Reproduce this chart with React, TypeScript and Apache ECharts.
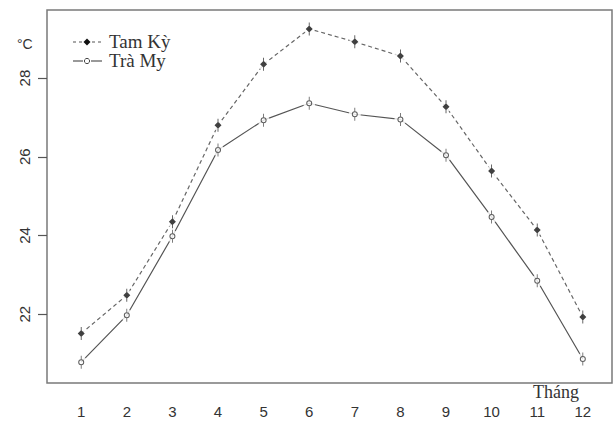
import React, { useEffect, useRef } from "react";
import * as echarts from "echarts";

const months = [1, 2, 3, 4, 5, 6, 7, 8, 9, 10, 11, 12];
const tamKy = [21.51, 22.48, 24.35, 26.8, 28.35, 29.25, 28.92, 28.56, 27.27, 25.64, 24.14, 21.93];
const traMy = [20.78, 21.97, 23.98, 26.17, 26.93, 27.36, 27.08, 26.95, 26.04, 24.47, 22.85, 20.86];
const yTicks = [22, 24, 26, 28];
const seriesNames = ["Tam Kỳ", "Trà My"];
const xTitle = "Tháng";
const yTitle = "°C";

const filledSym = "path://M3.1,0 H3.9 V13 H3.1 Z M3.5,3 L7,6.5 L3.5,10 L0,6.5 Z";
const openSym =
  "path://M3.1,0 H3.9 V3.6 H3.1 Z M3.1,9.4 H3.9 V13 H3.1 Z M3.5,3.5 A3,3 0 1,1 3.5,9.5 A3,3 0 1,1 3.5,3.5 Z M3.5,4.5 A2,2 0 1,0 3.5,8.5 A2,2 0 1,0 3.5,4.5 Z";

export default function App() {
  const ref = useRef<HTMLDivElement>(null);
  useEffect(() => {
    if (!ref.current) return;
    const chart = echarts.init(ref.current, null, { renderer: "svg" });
    const serif = "Liberation Serif";
    const sans = "Liberation Sans";
    const tk = months.map((m, i) => [m, tamKy[i]]);
    const tm = months.map((m, i) => [m, traMy[i]]);
    chart.setOption({
      animation: false,
      backgroundColor: "#ffffff",
      grid: {
        left: 47,
        top: 10,
        right: 2,
        bottom: 38,
        show: true,
        borderColor: "#7a7a7a",
        borderWidth: 1.5,
        backgroundColor: "transparent",
      },
      xAxis: {
        type: "value",
        min: 0.25,
        max: 12.64,
        splitLine: { show: false },
        axisLine: { show: false },
        axisTick: { show: false },
        axisLabel: {
          customValues: months,
          margin: 21,
          fontFamily: sans,
          fontSize: 15,
          color: "#333",
        },
      },
      yAxis: {
        type: "value",
        min: 20.25,
        max: 29.73,
        splitLine: { show: false },
        axisLine: { show: false },
        axisTick: { show: true, customValues: yTicks, length: 9, lineStyle: { color: "#555", width: 1.2 } },
        axisLabel: {
          customValues: yTicks,
          rotate: 90,
          margin: 15,
          fontFamily: sans,
          fontSize: 15,
          color: "#333",
        },
      },
      series: [
        {
          name: seriesNames[0],
          type: "line",
          data: tk,
          showSymbol: false,
          lineStyle: { color: "#666", width: 1.2, type: [4, 3] },
          z: 1,
        },
        {
          name: seriesNames[1],
          type: "line",
          data: tm,
          showSymbol: false,
          lineStyle: { color: "#555", width: 1.2 },
          z: 1,
        },
        {
          type: "scatter",
          data: tk,
          symbol: "circle",
          symbolSize: 11,
          itemStyle: { color: "#ffffff" },
          z: 2,
        },
        {
          type: "scatter",
          data: tm,
          symbol: "circle",
          symbolSize: 12,
          itemStyle: { color: "#ffffff" },
          z: 2,
        },
        {
          name: seriesNames[0],
          type: "scatter",
          data: tk,
          symbol: filledSym,
          symbolSize: [7, 13],
          itemStyle: { color: "#111" },
          z: 3,
        },
        {
          name: seriesNames[1],
          type: "scatter",
          data: tm,
          symbol: openSym,
          symbolSize: [6, 13],
          itemStyle: { color: "#333" },
          z: 3,
        },
      ],
      graphic: [
        { type: "text", left: 17, top: 37, style: { text: yTitle, font: `14px "${sans}"`, fill: "#333" } },
        { type: "text", left: 533, top: 383, style: { text: xTitle, font: `18px "${serif}"`, fill: "#333" } },
        { type: "line", shape: { x1: 73, y1: 42, x2: 82, y2: 42 }, style: { stroke: "#555", lineWidth: 1.2, lineDash: [3, 3] } },
        { type: "line", shape: { x1: 92, y1: 42, x2: 102, y2: 42 }, style: { stroke: "#555", lineWidth: 1.2, lineDash: [3, 3] } },
        { type: "polygon", shape: { points: [[87, 38.5], [90.5, 42], [87, 45.5], [83.5, 42]] }, style: { fill: "#111" } },
        { type: "text", left: 109, top: 32, style: { text: seriesNames[0], font: `19px "${serif}"`, fill: "#333" } },
        { type: "line", shape: { x1: 73, y1: 61, x2: 83, y2: 61 }, style: { stroke: "#555", lineWidth: 1.2 } },
        { type: "line", shape: { x1: 91, y1: 61, x2: 102, y2: 61 }, style: { stroke: "#555", lineWidth: 1.2 } },
        { type: "circle", shape: { cx: 87, cy: 61, r: 2.6 }, style: { fill: "#fff", stroke: "#444", lineWidth: 1 } },
        { type: "text", left: 109, top: 51, style: { text: seriesNames[1], font: `19px "${serif}"`, fill: "#333" } },
      ],
    });
    return () => chart.dispose();
  }, []);
  return <div ref={ref} style={{ width: 614, height: 421, position: "absolute", left: 0, top: 0 }} />;
}
